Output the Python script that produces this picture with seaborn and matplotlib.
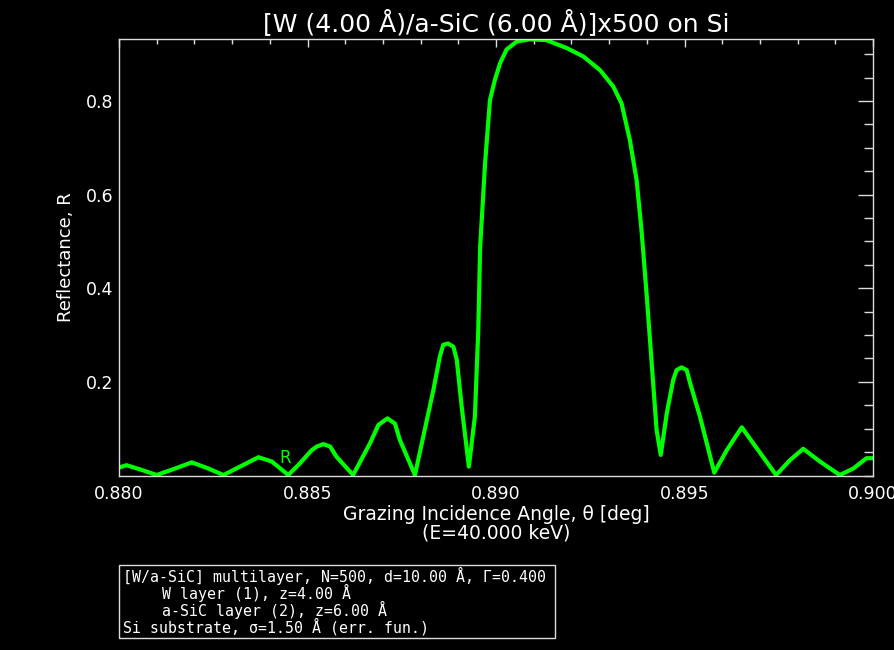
import numpy as np
import pandas as pd
import matplotlib
matplotlib.use("Agg")
import matplotlib.pyplot as plt
import seaborn as sns
from matplotlib.patches import Rectangle
from matplotlib.ticker import MultipleLocator, FixedLocator

# ---- data ----
theta = [0.88000, 0.88020, 0.88060, 0.88100, 0.88149, 0.88193, 0.88237, 0.88277,
         0.88321, 0.88370, 0.88405, 0.88449, 0.88480, 0.88511, 0.88525, 0.88542,
         0.88560, 0.88577, 0.88621, 0.88666, 0.88688, 0.88712, 0.88732, 0.88745,
         0.88785, 0.88834, 0.88851, 0.88860, 0.88873, 0.88887, 0.88896, 0.88909,
         0.88928, 0.88944, 0.88953, 0.88958, 0.88971, 0.88984, 0.88997, 0.89011,
         0.89028, 0.89055, 0.89090, 0.89134, 0.89188, 0.89232, 0.89276, 0.89311,
         0.89333, 0.89355, 0.89373, 0.89386, 0.89400, 0.89413, 0.89426, 0.89437,
         0.89453, 0.89470, 0.89479, 0.89492, 0.89506, 0.89515, 0.89541, 0.89579,
         0.89612, 0.89652, 0.89682, 0.89743, 0.89780, 0.89815, 0.89859, 0.89912,
         0.89948, 0.89983, 0.90000]
reflectance = [0.017, 0.022, 0.012, 0.001, 0.015, 0.028, 0.015, 0.001,
               0.019, 0.039, 0.030, 0.001, 0.026, 0.054, 0.062, 0.067,
               0.062, 0.040, 0.001, 0.069, 0.108, 0.122, 0.111, 0.076,
               0.001, 0.183, 0.254, 0.279, 0.282, 0.275, 0.247, 0.147,
               0.019, 0.126, 0.311, 0.489, 0.667, 0.802, 0.845, 0.881,
               0.910, 0.927, 0.932, 0.930, 0.913, 0.895, 0.866, 0.831,
               0.795, 0.717, 0.631, 0.524, 0.382, 0.240, 0.097, 0.044,
               0.133, 0.204, 0.225, 0.231, 0.225, 0.197, 0.126, 0.006,
               0.054, 0.103, 0.069, 0.001, 0.033, 0.057, 0.030, 0.001,
               0.015, 0.037, 0.037]

title = "[W (4.00 Å)/a-SiC (6.00 Å)]x500 on Si"
x_label = "Grazing Incidence Angle, θ [deg]\n(E=40.000 keV)"
y_label = "Reflectance, R"
x_ticks = [0.880, 0.885, 0.890, 0.895, 0.900]
x_tick_labels = ["0.880", "0.885", "0.890", "0.895", "0.900"]
y_ticks = [0.2, 0.4, 0.6, 0.8]
y_tick_labels = ["0.2", "0.4", "0.6", "0.8"]
curve_label = "R"
info_lines = ["[W/a-SiC] multilayer, N=500, d=10.00 Å, Γ=0.400",
              "W layer (1), z=4.00 Å",
              "a-SiC layer (2), z=6.00 Å",
              "Si substrate, σ=1.50 Å (err. fun.)"]
info_indent = [0, 1, 1, 0]

# ---- style ----
sns.set_theme(style="dark")
plt.rcParams['font.family'] = ['DejaVu Sans']
fg = '#dcdcdc'
green = '#00ff00'

W, H = 895, 650
fig = plt.figure(figsize=(W / 100, H / 100), dpi=100, facecolor='black')
ax_l, ax_r, ax_t, ax_b = 119, 873, 39, 475.5
ax = fig.add_axes([ax_l / W, 1 - ax_b / H, (ax_r - ax_l) / W, (ax_b - ax_t) / H])
ax.set_facecolor('black')

df = pd.DataFrame({'theta': theta, 'R': reflectance})
sns.lineplot(data=df, x='theta', y='R', ax=ax, color=green, linewidth=3.0,
             sort=False, estimator=None)

ax.set_xlim(0.880, 0.900)
ax.set_ylim(0.0, 0.9325)

ax.xaxis.set_major_locator(FixedLocator(x_ticks))
ax.set_xticklabels(x_tick_labels)
ax.xaxis.set_minor_locator(MultipleLocator(0.001))
ax.yaxis.set_major_locator(FixedLocator(y_ticks))
ax.set_yticklabels(y_tick_labels)
ax.yaxis.set_minor_locator(MultipleLocator(0.05))

ax.grid(False)
for s in ax.spines.values():
    s.set_color(fg)
    s.set_linewidth(1.0)
    s.set_visible(True)

ax.tick_params(axis='both', which='both', direction='in', top=True, right=True,
               color=fg, labelcolor='white', width=1.0, labelsize=12.5)
ax.tick_params(axis='x', which='major', length=6, pad=7)
ax.tick_params(axis='x', which='minor', length=3.6)
ax.tick_params(axis='y', which='major', length=11, pad=4)
ax.tick_params(axis='y', which='minor', length=6.5)

ax.set_title(title, color='white', fontsize=18, pad=6)
ax.set_xlabel(x_label, color='white', fontsize=13.5, linespacing=0.95)
ax.xaxis.set_label_coords(0.5, -0.068)
ax.set_ylabel(y_label, color='white', fontsize=13)
ax.yaxis.set_label_coords(-0.058, 0.5)

ax.text(0.8844, 0.038, curve_label, color=green, fontsize=12,
        ha='center', va='center')

# info box
bx0, by0, bx1, by1 = 119, 565, 555, 638
fig.add_artist(Rectangle((bx0 / W, 1 - by1 / H), (bx1 - bx0) / W, (by1 - by0) / H,
                         transform=fig.transFigure, fill=False, edgecolor=fg,
                         linewidth=1.0))
line_y = [576, 593, 610, 627]
for txt, ind, yy in zip(info_lines, info_indent, line_y):
    xx = 123 if ind == 0 else 162
    fig.text(xx / W, 1 - yy / H, txt, color='white', fontsize=10.7,
             family='DejaVu Sans Mono', ha='left', va='center')

fig.savefig('out.png', dpi=100, facecolor='black')
